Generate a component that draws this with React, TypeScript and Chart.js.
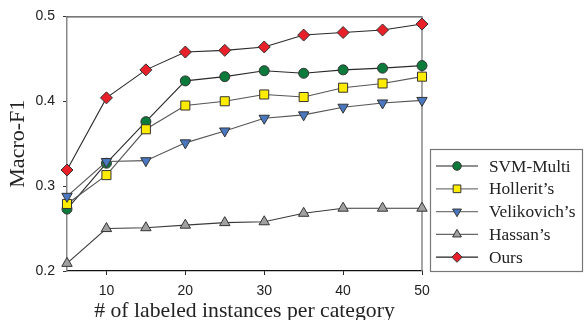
import React, { useEffect, useRef } from "react";
import { Chart, registerables } from "chart.js";
import { drawPoint } from "chart.js/helpers";

Chart.register(...registerables);

const xValues = [5, 10, 15, 20, 25, 30, 35, 40, 45, 50];
const xTicks = [10, 20, 30, 40, 50];
const seriesNames = ["SVM-Multi", "Hollerit\u2019s", "Velikovich\u2019s", "Hassan\u2019s", "Ours"];
const svmMulti = [0.273, 0.327, 0.376, 0.424, 0.429, 0.436, 0.433, 0.437, 0.439, 0.442];
const hollerit = [0.279, 0.313, 0.367, 0.395, 0.4, 0.408, 0.405, 0.416, 0.421, 0.429];
const velikovich = [0.288, 0.329, 0.33, 0.351, 0.365, 0.38, 0.384, 0.393, 0.398, 0.401];
const hassan = [0.209, 0.25, 0.251, 0.254, 0.257, 0.258, 0.268, 0.274, 0.274, 0.274];
const ours = [0.319, 0.404, 0.437, 0.458, 0.46, 0.464, 0.478, 0.481, 0.484, 0.491];

const SERIF = "'Liberation Serif', 'Times New Roman', serif";
const SANS = "'Liberation Sans', Arial, sans-serif";

const styles = [
  { fill: "#0b7a3b", line: "#2a2a2a", legendLine: "#222", pointStyle: "circle", radius: 5, rotation: 0 },
  { fill: "#ffec00", line: "#555555", legendLine: "#777", pointStyle: "rect", radius: 6.4, rotation: 0 },
  { fill: "#4a78c0", line: "#555555", legendLine: "#777", pointStyle: "triangle", radius: 6, rotation: 180 },
  { fill: "#a0a0a0", line: "#3a3a3a", legendLine: "#666", pointStyle: "triangle", radius: 6, rotation: 0 },
  { fill: "#e8202a", line: "#2a2a2a", legendLine: "#222", pointStyle: "rectRot", radius: 6, rotation: 0 },
];

const seriesData = [svmMulti, hollerit, velikovich, hassan, ours];

const framePlugin = {
  id: "frame",
  beforeDatasetsDraw(chart: any) {
    const { ctx, chartArea } = chart;
    ctx.save();
    ctx.lineWidth = 1;
    ctx.strokeStyle = "#222";
    ctx.beginPath();
    ctx.moveTo(chartArea.left, chartArea.top + 0.5);
    ctx.lineTo(chartArea.right + 0.5, chartArea.top + 0.5);
    ctx.stroke();
    ctx.strokeStyle = "#888";
    ctx.lineWidth = 1.5;
    ctx.beginPath();
    ctx.moveTo(chartArea.right, chartArea.top);
    ctx.lineTo(chartArea.right, chartArea.bottom);
    ctx.stroke();
    ctx.restore();
  },
};

const legendPlugin = {
  id: "customLegend",
  afterDraw(chart: any) {
    const { ctx } = chart;
    ctx.save();
    ctx.strokeStyle = "#777";
    ctx.lineWidth = 1.2;
    ctx.strokeRect(430.5, 149.5, 152, 122);
    chart.data.datasets.forEach((ds: any, i: number) => {
      const y = 166 + i * 22.8;
      const st = styles[i];
      ctx.strokeStyle = st.legendLine;
      ctx.lineWidth = 1.2;
      ctx.beginPath();
      ctx.moveTo(436, y);
      ctx.lineTo(478, y);
      ctx.stroke();
      ctx.fillStyle = st.fill;
      ctx.strokeStyle = "#333";
      ctx.lineWidth = 1;
      drawPoint(ctx, { pointStyle: st.pointStyle, rotation: st.rotation, radius: st.radius * 0.85, borderWidth: 1 } as any, 457, y);
      ctx.fillStyle = "#222";
      ctx.font = `17.3px ${SERIF}`;
      ctx.textBaseline = "middle";
      ctx.textAlign = "left";
      ctx.fillText(ds.label, 489, y + 1);
    });
    ctx.restore();
  },
};

export default function App() {
  const canvasRef = useRef<HTMLCanvasElement | null>(null);

  useEffect(() => {
    document.body.style.margin = "0";
    const canvas = canvasRef.current;
    if (!canvas) return;
    const datasets = seriesData.map((vals, i) => ({
      label: seriesNames[i],
      data: xValues.map((x, j) => ({ x, y: vals[j] })),
      borderColor: styles[i].line,
      borderWidth: 1.1,
      backgroundColor: styles[i].fill,
      pointBackgroundColor: styles[i].fill,
      pointBorderColor: "#333",
      pointBorderWidth: 1,
      pointStyle: styles[i].pointStyle,
      pointRotation: styles[i].rotation,
      pointRadius: styles[i].radius,
      tension: 0,
      clip: false as any,
      order: -i,
    }));
    const chart = new Chart(canvas, {
      type: "line",
      data: { datasets },
      options: {
        animation: false,
        responsive: false,
        maintainAspectRatio: false,
        layout: { padding: { top: 16, right: 162, left: 0, bottom: 0 } },
        plugins: { legend: { display: false }, tooltip: { enabled: false } },
        scales: {
          x: {
            type: "linear",
            min: 5,
            max: 50,
            afterBuildTicks: (scale: any) => {
              scale.ticks = xTicks.map((v) => ({ value: v }));
            },
            afterFit: (scale: any) => {
              scale.height = 49;
            },
            grid: { display: true, drawOnChartArea: false, drawTicks: true, tickLength: 4, color: "#222" },
            border: { display: true, color: "#111", width: 1.2 },
            ticks: {
              padding: 8,
              maxRotation: 0,
              color: "#222",
              font: { family: SANS, size: 14 },
              callback: (v: any) => String(v),
            },
            title: {
              display: true,
              text: "# of labeled instances per category",
              color: "#222",
              font: { family: SERIF, size: 21.7 },
              padding: { top: 0, bottom: -4 },
            },
          },
          y: {
            min: 0.2,
            max: 0.5,
            afterFit: (scale: any) => {
              scale.width = 67;
            },
            grid: { display: true, drawOnChartArea: false, drawTicks: true, tickLength: 4, color: "#333" },
            border: { display: true, color: "#888", width: 1.5 },
            ticks: {
              stepSize: 0.1,
              padding: 8,
              color: "#222",
              font: { family: SANS, size: 14 },
              callback: (v: any) => Number(v).toFixed(1),
            },
            title: {
              display: true,
              text: "Macro-F1",
              color: "#222",
              font: { family: SERIF, size: 22 },
              padding: { top: 5, bottom: 0 },
            },
          },
        },
      },
      plugins: [framePlugin, legendPlugin],
    });
    return () => chart.destroy();
  }, []);

  return (
    <div style={{ position: "absolute", left: 0, top: 0, width: 584, height: 320 }}>
      <canvas ref={canvasRef} width={584} height={320} style={{ width: 584, height: 320 }} />
    </div>
  );
}
